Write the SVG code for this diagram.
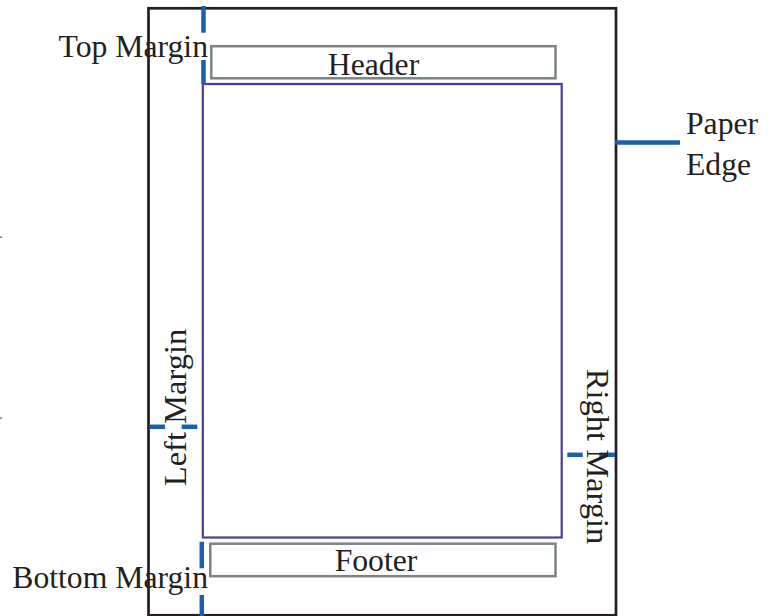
<svg xmlns="http://www.w3.org/2000/svg" width="772" height="616" viewBox="0 0 772 616">
  <style>
    .paper { fill: #ffffff; stroke: #231f20; stroke-width: 2.7; }
    .band { fill: none; stroke: #7b8386; stroke-width: 2.5; }
    .body { fill: none; stroke: #4a3d9c; stroke-width: 2.2; }
    .mark { stroke: #1a5fa8; stroke-width: 4.5; fill: none; }
    .lbl { font-family: "Liberation Serif", "Times New Roman", serif; font-size: 31.7px; fill: #231f20; }
    .vlbl { font-family: "Liberation Serif", "Times New Roman", serif; font-size: 32.5px; fill: #231f20; }
  </style>
  <rect width="772" height="616" fill="#ffffff"/>

  <!-- sheet of paper -->
  <g id="paper">
    <rect class="paper" x="148.5" y="8.3" width="467.5" height="607"/>
  </g>

  <!-- header band -->
  <g id="header">
    <rect class="band" x="211.3" y="46.2" width="344.2" height="32.1"/>
    <text class="lbl" x="373.5" y="75" text-anchor="middle">Header</text>
  </g>

  <!-- printable body area -->
  <g id="body">
    <rect class="body" x="202.8" y="84" width="358.9" height="453.5"/>
  </g>

  <!-- footer band -->
  <g id="footer">
    <rect class="band" x="210.3" y="543.7" width="345.2" height="32.5"/>
    <text class="lbl" x="376" y="570.7" text-anchor="middle">Footer</text>
  </g>

  <!-- margin indicators -->
  <g id="connectors">
    <line class="mark" x1="203.5" y1="6" x2="203.5" y2="32.7"/>
    <line class="mark" x1="203.5" y1="60" x2="203.5" y2="84"/>
    <line class="mark" x1="201.8" y1="541.7" x2="201.8" y2="568.3"/>
    <line class="mark" x1="201.8" y1="595" x2="201.8" y2="616"/>
    <line class="mark" x1="615" y1="142.5" x2="680" y2="142.5"/>
    <line class="mark" x1="150" y1="426.8" x2="165" y2="426.8"/>
    <line class="mark" x1="181.7" y1="426.8" x2="197.3" y2="426.8"/>
    <line class="mark" x1="567.3" y1="454.8" x2="582.7" y2="454.8"/>
    <line class="mark" x1="599.3" y1="454.8" x2="615" y2="454.8"/>
  </g>

  <!-- labels -->
  <g id="label-top-margin">
    <text class="lbl" x="208" y="57" text-anchor="end">Top Margin</text>
  </g>
  <g id="label-bottom-margin">
    <text class="lbl" x="208" y="588.3" text-anchor="end">Bottom Margin</text>
  </g>
  <g id="label-paper-edge">
    <text class="lbl" x="686" y="133.5">Paper</text>
    <text class="lbl" x="686" y="175">Edge</text>
  </g>
  <g id="label-left-margin">
    <text class="vlbl" x="186" y="407.5" text-anchor="middle" transform="rotate(-90 186 407.5)">Left Margin</text>
  </g>
  <g id="label-right-margin">
    <text class="vlbl" x="587" y="456.5" text-anchor="middle" transform="rotate(90 587 456.5)">Right Margin</text>
  </g>

  <!-- small ticks at the left edge -->
  <g id="edge-ticks" fill="#555555">
    <rect x="0" y="236.5" width="2" height="1.2"/>
    <rect x="0" y="417.5" width="2" height="1.2"/>
  </g>
</svg>
